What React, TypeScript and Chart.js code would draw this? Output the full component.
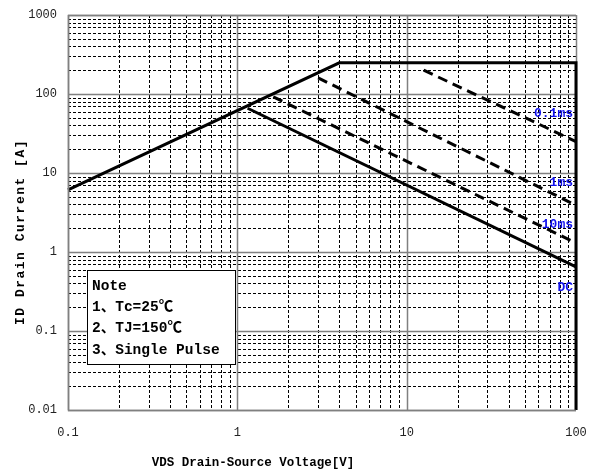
import React, { useEffect, useRef } from "react";
import { Chart, registerables } from "chart.js";

Chart.register(...registerables);

// ---- data ----
const xTickLabels = ["0.1", "1", "10", "100"];
const yTickLabels = ["0.01", "0.1", "1", "10", "100", "1000"];

const limitV = [0.1, 4, 100, 100];
const limitI = [6.1, 248, 248, 0.01];
const dcV = [1.15, 100];
const dcI = [66, 0.65];
const ms10V = [1.63, 100];
const ms10I = [92, 1.3];
const ms1V = [3.0, 100];
const ms1I = [160, 3.9];
const us100V = [12.6, 100];
const us100I = [200, 25];

const curveLabels = ["0.1ms", "1ms", "10ms", "DC"];
const curveLabelI = [56, 7.5, 2.2, 0.35];
const curveLabelV = [100, 100, 100, 100];

const noteLines = ["Note", "1、Tc=25℃", "2、TJ=150℃", "3、Single Pulse"];

const xTitle = "VDS Drain-Source Voltage[V]";
const yTitle = "ID Drain Current [A]";

const FONT = '"Liberation Mono", "Noto Sans CJK SC", monospace';

const pts = (xs: number[], ys: number[]) => xs.map((x, i) => ({ x, y: ys[i] }));

const isDecade = (v: number) => Math.abs(Math.log10(v) - Math.round(Math.log10(v))) < 1e-6;

const gridPlugin = {
  id: "customGrid",
  beforeDatasetsDraw(chart: any) {
    const { ctx, chartArea: a, scales } = chart;
    const xs = scales.x;
    const ys = scales.y;
    ctx.save();
    // minor
    ctx.strokeStyle = "#000";
    ctx.lineWidth = 1;
    ctx.setLineDash([3, 2]);
    for (let e = -1; e < 2; e++) {
      for (let m = 2; m <= 9; m++) {
        const px = Math.round(xs.getPixelForValue(m * Math.pow(10, e))) + 0.5;
        ctx.beginPath();
        ctx.moveTo(px, a.top);
        ctx.lineTo(px, a.bottom);
        ctx.stroke();
      }
    }
    for (let e = -2; e < 3; e++) {
      for (let m = 2; m <= 9; m++) {
        const py = Math.round(ys.getPixelForValue(m * Math.pow(10, e))) + 0.5;
        ctx.beginPath();
        ctx.moveTo(a.left, py);
        ctx.lineTo(a.right, py);
        ctx.stroke();
      }
    }
    // major
    ctx.setLineDash([]);
    ctx.strokeStyle = "#808080";
    ctx.lineWidth = 1.5;
    for (let e = -1; e <= 2; e++) {
      const px = Math.round(xs.getPixelForValue(Math.pow(10, e))) + 0.5;
      ctx.beginPath();
      ctx.moveTo(px, a.top);
      ctx.lineTo(px, a.bottom);
      ctx.stroke();
    }
    for (let e = -2; e <= 3; e++) {
      const py = Math.round(ys.getPixelForValue(Math.pow(10, e))) + 0.5;
      ctx.beginPath();
      ctx.moveTo(a.left, py);
      ctx.lineTo(a.right, py);
      ctx.stroke();
    }
    ctx.restore();
  },
  afterDatasetsDraw(chart: any) {
    const { ctx, scales, chartArea: a } = chart;
    const xs = scales.x;
    const ys = scales.y;
    ctx.save();
    // curve labels
    ctx.fillStyle = "#1010ee";
    ctx.font = `bold 13px ${FONT}`;
    ctx.textAlign = "right";
    ctx.textBaseline = "middle";
    curveLabels.forEach((t, i) => {
      const px = xs.getPixelForValue(curveLabelV[i]) - 3;
      const py = ys.getPixelForValue(curveLabelI[i]);
      ctx.fillText(t, px, py);
    });
    // note box
    const bx = a.left + 19;
    const by = a.top + 255;
    const bw = 148;
    const bh = 94;
    ctx.fillStyle = "#fff";
    ctx.fillRect(bx, by, bw, bh);
    ctx.strokeStyle = "#000";
    ctx.lineWidth = 1;
    ctx.strokeRect(Math.round(bx) + 0.5, Math.round(by) + 0.5, bw, bh);
    ctx.fillStyle = "#000";
    ctx.textAlign = "left";
    ctx.font = `bold 14.5px ${FONT}`;
    noteLines.forEach((t, i) => {
      ctx.fillText(t, bx + 5, by + 16 + i * 21.3);
    });
    ctx.restore();
  },
  afterDraw(chart: any) {
    const { ctx, chartArea: a } = chart;
    ctx.save();
    // plot border (top, left, bottom)
    ctx.strokeStyle = "#808080";
    ctx.lineWidth = 1.5;
    ctx.beginPath();
    ctx.moveTo(a.right, a.top + 0.5);
    ctx.lineTo(a.left + 0.5, a.top + 0.5);
    ctx.lineTo(a.left + 0.5, a.bottom + 0.5);
    ctx.lineTo(a.right, a.bottom + 0.5);
    ctx.stroke();
    // titles
    ctx.fillStyle = "#000";
    ctx.font = `bold 12.5px ${FONT}`;
    ctx.textAlign = "center";
    ctx.textBaseline = "middle";
    ctx.fillText(xTitle, 253, 463);
    ctx.translate(21, 232);
    ctx.rotate(-Math.PI / 2);
    ctx.font = `bold 13px ${FONT}`;
    (ctx as any).letterSpacing = "1.5px";
    ctx.fillText(yTitle, 0, 0);
    ctx.restore();
  },
};

export default function App() {
  const ref = useRef<HTMLCanvasElement>(null);
  useEffect(() => {
    const canvas = ref.current!;
    const solid = { borderColor: "#000", borderWidth: 3, pointRadius: 0, showLine: true, clip: false as any };
    const dashed = { ...solid, borderDash: [10, 6] };
    const chart = new Chart(canvas, {
      type: "scatter",
      data: {
        datasets: [
          { label: "limit", data: pts(limitV, limitI), ...solid },
          { label: "DC", data: pts(dcV, dcI), ...solid },
          { label: "10ms", data: pts(ms10V, ms10I), ...dashed },
          { label: "1ms", data: pts(ms1V, ms1I), ...dashed },
          { label: "0.1ms", data: pts(us100V, us100I), ...dashed },
        ],
      },
      options: {
        animation: false,
        responsive: false,
        maintainAspectRatio: false,
        devicePixelRatio: 1,
        layout: { padding: { top: 15, right: 22, left: 0, bottom: 0 } },
        plugins: { legend: { display: false }, tooltip: { enabled: false } },
        scales: {
          x: {
            type: "logarithmic",
            min: 0.1,
            max: 100,
            grid: { display: false, drawTicks: false },
            border: { display: false },
            afterFit: (s: any) => {
              s.height = 63;
              s.paddingLeft = 0;
              s.paddingRight = 0;
            },
            ticks: {
              autoSkip: false,
              maxRotation: 0,
              padding: 16,
              color: "#222",
              font: { family: FONT, size: 12 },
              callback: (v: any) => {
                const n = Number(v);
                if (!isDecade(n)) return "";
                return xTickLabels[Math.round(Math.log10(n)) + 1];
              },
            },
          },
          y: {
            type: "logarithmic",
            min: 0.01,
            max: 1000,
            grid: { display: false, drawTicks: false },
            border: { display: false },
            afterFit: (s: any) => {
              s.width = 68;
              s.paddingTop = 0;
              s.paddingBottom = 0;
            },
            ticks: {
              autoSkip: false,
              padding: 11,
              color: "#222",
              font: { family: FONT, size: 12 },
              callback: (v: any) => {
                const n = Number(v);
                if (!isDecade(n)) return "";
                return yTickLabels[Math.round(Math.log10(n)) + 2];
              },
            },
          },
        },
      },
      plugins: [gridPlugin],
    });
    return () => chart.destroy();
  }, []);
  return (
    <div style={{ position: "fixed", left: 0, top: 0, width: 598, height: 473, background: "#fff" }}>
      <canvas ref={ref} width={598} height={473} style={{ width: 598, height: 473 }} />
    </div>
  );
}
